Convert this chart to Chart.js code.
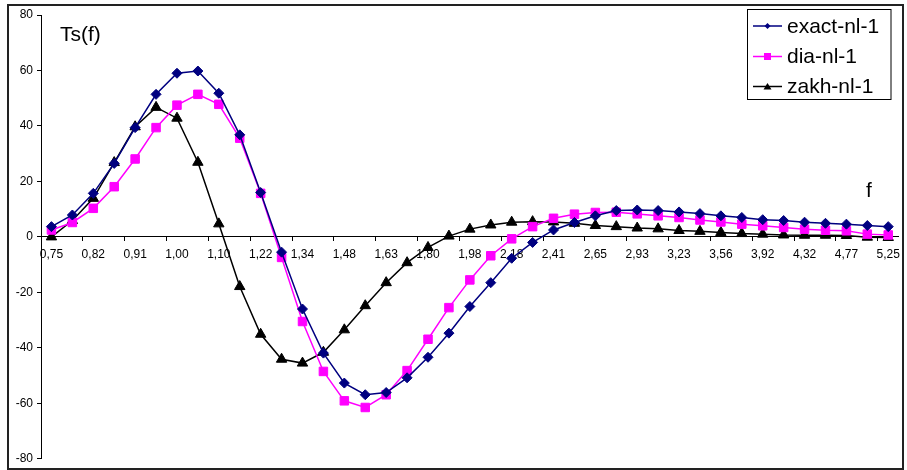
<!DOCTYPE html>
<html><head><meta charset="utf-8">
<script src="https://cdn.jsdelivr.net/npm/chart.js@4/dist/chart.umd.min.js"></script>
<style>html,body{margin:0;padding:0;background:#fff}</style>
</head><body>
<canvas id="c" width="907" height="470"></canvas>
<script>
const fLabels = ['0,75','0,79','0,82','0,86','0,91','0,95','1,00','1,05','1,10','1,15','1,22','1,28','1,34','1,41','1,48','1,55','1,63','1,71','1,80','1,89','1,98','2,08','2,18','2,29','2,41','2,53','2,65','2,78','2,93','3,07','3,23','3,39','3,56','3,73','3,92','4,12','4,32','4,53','4,77','5,00','5,25'];
const exactNl1 = [3.7,7.9,15.7,26.5,39.4,51.4,59.0,59.8,51.8,36.8,16.0,-5.5,-26.0,-41.9,-52.7,-56.9,-56.1,-50.8,-43.4,-34.7,-25.1,-16.5,-7.7,-2.0,2.5,5.2,7.6,9.5,9.7,9.5,9.0,8.4,7.6,7.0,6.2,5.9,5.3,4.9,4.6,4.1,3.7];
const diaNl1 = [2.5,5.2,10.3,18.1,28.1,39.4,47.5,51.4,47.8,35.6,15.7,-7.4,-30.5,-48.5,-59.1,-61.5,-56.9,-48.2,-36.9,-25.5,-15.5,-6.8,-0.7,3.7,6.7,8.2,8.8,8.9,8.3,7.6,7.0,6.1,5.4,4.6,4.0,3.4,2.8,2.4,2.2,1.0,0.7];
const zakhNl1 = [0.0,5.9,13.9,26.8,39.7,46.7,42.8,26.9,4.7,-17.9,-35.1,-44.1,-45.5,-41.6,-33.5,-24.8,-16.5,-9.3,-3.8,0.3,2.8,4.3,5.3,5.5,5.4,4.9,4.1,3.7,3.2,2.9,2.3,2.0,1.6,1.2,1.0,0.7,0.6,0.6,0.5,-0.1,-0.2];
const seriesNames = ['exact-nl-1','dia-nl-1','zakh-nl-1'];
const yTitle = 'Ts(f)';
const xTitle = 'f';

Chart.defaults.color = '#000';
Chart.defaults.font.family = '"Liberation Sans", Arial, sans-serif';
Chart.defaults.font.size = 12;

const NAVY = '#000080', MAG = '#FF00FF', BLK = '#000000';

const decor = {
  id: 'decor',
  afterDraw(chart) {
    const ctx = chart.ctx;
    ctx.save();
    ctx.strokeStyle = '#222';
    ctx.lineWidth = 2;
    ctx.strokeRect(8, 5, 895, 464);
    ctx.fillStyle = '#000';
    ctx.font = '21px "Liberation Sans", Arial, sans-serif';
    ctx.textBaseline = 'alphabetic';
    ctx.textAlign = 'left';
    ctx.fillText(yTitle, 60, 40.5);
    ctx.fillText(xTitle, 866, 197);
    ctx.lineWidth = 1;
    ctx.strokeStyle = '#000';
    ctx.fillStyle = '#fff';
    ctx.fillRect(747, 9, 144, 91);
    ctx.strokeRect(747.5, 9.5, 143.5, 90);
    const rows = [26, 56.5, 86.5];
    const cols = [NAVY, MAG, BLK];
    const shapes = ['diamond','square','triangle'];
    chart.data.datasets.forEach((ds, i) => {
      const y = rows[i];
      ctx.strokeStyle = cols[i];
      ctx.lineWidth = 1.5;
      ctx.beginPath(); ctx.moveTo(753, y); ctx.lineTo(782, y); ctx.stroke();
      ctx.fillStyle = cols[i];
      const cx = 767.5;
      ctx.beginPath();
      if (shapes[i] === 'diamond') {
        ctx.moveTo(cx, y - 3); ctx.lineTo(cx + 3, y); ctx.lineTo(cx, y + 3); ctx.lineTo(cx - 3, y);
      } else if (shapes[i] === 'square') {
        ctx.rect(cx - 3.5, y - 3.5, 7, 7);
      } else {
        ctx.moveTo(cx, y - 3.5); ctx.lineTo(cx + 4, y + 3); ctx.lineTo(cx - 4, y + 3);
      }
      ctx.closePath(); ctx.fill();
      ctx.fillStyle = '#000';
      ctx.font = '21px "Liberation Sans", Arial, sans-serif';
      ctx.textBaseline = 'middle';
      ctx.fillText(ds.label, 787, y + 1);
    });
    ctx.restore();
  }
};

new Chart(document.getElementById('c'), {
  type: 'line',
  data: {
    labels: fLabels,
    datasets: [
      { label: seriesNames[0], data: exactNl1, borderColor: NAVY, backgroundColor: NAVY, borderWidth: 1.5,
        pointStyle: 'rectRot', pointRadius: 5, pointBorderWidth: 1, tension: 0 },
      { label: seriesNames[1], data: diaNl1, borderColor: MAG, backgroundColor: MAG, borderWidth: 1.5,
        pointStyle: 'rect', pointRadius: 6, pointBorderWidth: 1, tension: 0 },
      { label: seriesNames[2], data: zakhNl1, borderColor: BLK, backgroundColor: BLK, borderWidth: 1.5,
        pointStyle: 'triangle', pointRadius: 6, pointBorderWidth: 1, tension: 0 }
    ]
  },
  options: {
    responsive: false,
    animation: false,
    devicePixelRatio: 1,
    layout: { padding: { left: 0, top: 15, right: 6, bottom: 11 } },
    plugins: { legend: { display: false }, tooltip: { enabled: false } },
    scales: {
      x: {
        type: 'category',
        position: { y: 0 },
        offset: true,
        grid: { offset: true, drawOnChartArea: false, drawTicks: true, tickLength: 4,
                color: (c) => (c.index % 2 === 0 ? '#000' : 'rgba(0,0,0,0)') },
        border: { display: true, color: '#000', width: 1 },
        ticks: { autoSkip: false, maxRotation: 0, minRotation: 0, padding: 7,
                 callback: (v, i) => (i % 2 === 0 ? fLabels[i] : '') }
      },
      y: {
        min: -80, max: 80,
        afterFit: (s) => { s.width = 41; },
        grid: { drawOnChartArea: false, drawTicks: true, tickLength: 4, color: '#000' },
        border: { display: true, color: '#000', width: 1 },
        ticks: { stepSize: 20, padding: 4 }
      }
    }
  },
  plugins: [decor]
});
</script>
</body></html>
